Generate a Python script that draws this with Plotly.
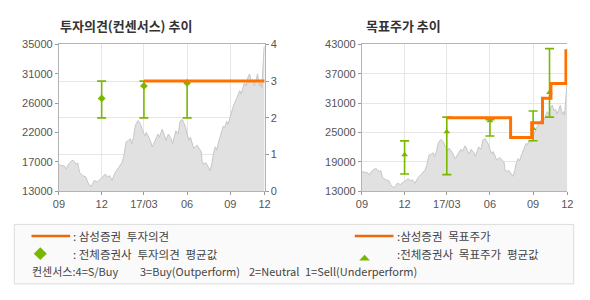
import plotly.graph_objects as go

# ---------------- data ----------------
price_dates = [
    '2016-09-01', '2016-09-06', '2016-09-13', '2016-09-17', '2016-09-20', '2016-09-27',
    '2016-10-01', '2016-10-05', '2016-10-08', '2016-10-11', '2016-10-15', '2016-10-22',
    '2016-10-29', '2016-11-01', '2016-11-08', '2016-11-12', '2016-11-15', '2016-11-22',
    '2016-11-29', '2016-12-06', '2016-12-09', '2016-12-13', '2016-12-18', '2016-12-23',
    '2016-12-30', '2017-01-06', '2017-01-13', '2017-01-17', '2017-01-22', '2017-01-27',
    '2017-01-31', '2017-02-03', '2017-02-07', '2017-02-10', '2017-02-13', '2017-02-17',
    '2017-02-22', '2017-02-26', '2017-03-03', '2017-03-06', '2017-03-10', '2017-03-13',
    '2017-03-19', '2017-03-24', '2017-03-27', '2017-03-31', '2017-04-03', '2017-04-09',
    '2017-04-14', '2017-04-17', '2017-04-22', '2017-04-28', '2017-05-01', '2017-05-05',
    '2017-05-08', '2017-05-13', '2017-05-17', '2017-05-22', '2017-05-26', '2017-05-29',
    '2017-06-01', '2017-06-05', '2017-06-08', '2017-06-12', '2017-06-15', '2017-06-22',
    '2017-06-26', '2017-07-01', '2017-07-03', '2017-07-06', '2017-07-11', '2017-07-17',
    '2017-07-20', '2017-07-24', '2017-07-27', '2017-07-31', '2017-08-03', '2017-08-07',
    '2017-08-10', '2017-08-13', '2017-08-17', '2017-08-20', '2017-08-24', '2017-08-27',
    '2017-08-31', '2017-09-05', '2017-09-08', '2017-09-14', '2017-09-17', '2017-09-21',
    '2017-09-24', '2017-09-28', '2017-10-01', '2017-10-05', '2017-10-08', '2017-10-12',
    '2017-10-15', '2017-10-19', '2017-10-22', '2017-10-26', '2017-10-29', '2017-11-02',
    '2017-11-05', '2017-11-07', '2017-11-09', '2017-11-12', '2017-11-13',
]
price_values = [
    17000, 16850, 16780, 16300, 16900, 17500,
    17650, 17300, 17030, 17270, 15830, 15340,
    15110, 14390, 13670, 14150, 14630, 14390,
    14870, 15340, 15590, 15110, 15340, 14630,
    15830, 16550, 17270, 18220, 20380, 20620,
    20860, 20140, 21100, 22540, 23250, 23600,
    23020, 22060, 21340, 21820, 21340, 20860,
    19660, 20380, 20860, 21580, 21100, 22300,
    21340, 20620, 21580, 20860, 20140, 21340,
    22060, 21580, 23500, 23740, 23020, 22540,
    21580, 20620, 21100, 20140, 19420, 19900,
    19420, 18940, 17500, 17030, 17270, 16550,
    16070, 17270, 18700, 19660, 19180, 20380,
    21100, 21820, 22780, 22540, 23500, 23020,
    23970, 24930, 25900, 26850, 27340, 28060,
    27570, 28530, 29250, 28770, 29970, 30590,
    29490, 29730, 28770, 29730, 30590, 28770,
    29250, 28530, 31650, 34700, 34700,
]

# consensus investment opinion (4=S/Buy ... 1=Sell)
opinion_dates = ['2016-12-01', '2017-03-01', '2017-06-01']
opinion_mean = [2.53, 2.87, 2.95]
opinion_high = [3, 3, 3]
opinion_low = [2, 2, 2]

# Samsung Securities opinion
house_opinion_dates = ['2017-03-01', '2017-11-13']
house_opinion_values = [3, 3]

# consensus target price
target_dates = ['2016-12-01', '2017-03-01', '2017-06-01', '2017-09-01', '2017-10-06']
target_mean = [20450, 25150, 27400, 25800, 33200]
target_high = [23300, 28150, 27640, 29400, 42140]
target_low = [16530, 16400, 24300, 23330, 28150]

# Samsung Securities target price (step)
house_target_dates = ['2017-03-01', '2017-07-15', '2017-08-29', '2017-09-21', '2017-10-09', '2017-11-10']
house_target_values = [28000, 24000, 27000, 32000, 35000, 42000]

x_range = ['2016-09-01', '2017-11-13']
x_tickvals = ['2016-09-01', '2016-12-01', '2017-03-01', '2017-06-01', '2017-09-01', '2017-11-13']
x_ticktext = ['09', '12', '17/03', '06', '09', '12']

left_tickvals = [13000, 17400, 21800, 26200, 30600, 35000]
left_ticktext = ['13000', '17000', '22000', '26000', '31000', '35000']
opinion_ticks = [0, 1, 2, 3, 4]
right_tickvals = [13000, 19000, 25000, 31000, 37000, 43000]
right_ticktext = ['13000', '19000', '25000', '31000', '37000', '43000']

# ---------------- style ----------------
W, H = 590, 300
ORANGE = '#ff7200'
LEG_ORANGE = '#ec6a0e'
GREEN = '#7ab800'
GRID = '#e6e6e6'
AXIS = '#b4b4b4'
TICKFONT = dict(family='Liberation Sans, Arial, sans-serif', size=11, color='#555555')
KFONT = 'Noto Sans CJK KR, sans-serif'
GAP = '\u2002'


def px(x):
    return x / W


def py(y):
    return 1 - y / H


fig = go.Figure()

# left chart: price area
fig.add_trace(go.Scatter(
    x=price_dates, y=price_values, xaxis='x', yaxis='y', mode='lines',
    line=dict(color='#c6c6c6', width=1), fill='tozeroy', fillcolor='#e1e1e1',
    hoverinfo='skip', showlegend=False))

# left chart: consensus opinion with range
fig.add_trace(go.Scatter(
    x=opinion_dates, y=opinion_mean, xaxis='x', yaxis='y2', mode='markers',
    marker=dict(symbol='diamond', size=6, color=GREEN),
    error_y=dict(type='data', symmetric=False,
                 array=[h - m for h, m in zip(opinion_high, opinion_mean)],
                 arrayminus=[m - l for m, l in zip(opinion_mean, opinion_low)],
                 color=GREEN, thickness=1.6, width=4.5),
    showlegend=False))

# left chart: house opinion
fig.add_trace(go.Scatter(
    x=house_opinion_dates, y=house_opinion_values, xaxis='x', yaxis='y2', mode='lines',
    line=dict(color=ORANGE, width=3), showlegend=False))

# right chart: price area
fig.add_trace(go.Scatter(
    x=price_dates, y=price_values, xaxis='x2', yaxis='y3', mode='lines',
    line=dict(color='#c6c6c6', width=1), fill='tozeroy', fillcolor='#e1e1e1',
    hoverinfo='skip', showlegend=False))

# right chart: consensus target with range
fig.add_trace(go.Scatter(
    x=target_dates, y=target_mean, xaxis='x2', yaxis='y3', mode='markers',
    marker=dict(symbol='triangle-up', size=6, color=GREEN),
    error_y=dict(type='data', symmetric=False,
                 array=[h - m for h, m in zip(target_high, target_mean)],
                 arrayminus=[m - l for m, l in zip(target_mean, target_low)],
                 color=GREEN, thickness=1.6, width=4.5),
    showlegend=False))

# right chart: house target (step)
fig.add_trace(go.Scatter(
    x=house_target_dates, y=house_target_values, xaxis='x2', yaxis='y3', mode='lines',
    line=dict(color=ORANGE, width=3, shape='hv'), showlegend=False))

ydom = [py(193), py(40)]
common_x = dict(type='date', range=x_range, tickvals=x_tickvals, ticktext=x_ticktext,
                showgrid=True, gridcolor=GRID, gridwidth=1, showline=True, linecolor=AXIS,
                linewidth=1, mirror=True, ticks='outside', ticklen=3, tickcolor='#999999',
                tickfont=TICKFONT, zeroline=False, fixedrange=True)

fig.update_layout(
    width=W, height=H, margin=dict(l=0, r=0, t=0, b=0),
    paper_bgcolor='white', plot_bgcolor='white', showlegend=False,
    xaxis=dict(domain=[px(54), px(264)], anchor='y', **common_x),
    yaxis=dict(domain=ydom, anchor='x', range=[13000, 35000], tickvals=left_tickvals,
               ticktext=left_ticktext, showgrid=False, showline=True, linecolor=AXIS,
               ticks='outside', ticklen=3, tickcolor='#999999', tickfont=TICKFONT,
               zeroline=False),
    yaxis2=dict(overlaying='y', anchor='x', side='right', range=[0, 4], tickvals=opinion_ticks,
                showgrid=True, gridcolor=GRID, showline=True, linecolor=AXIS,
                ticks='outside', ticklen=3, tickcolor='#999999', tickfont=TICKFONT,
                zeroline=False),
    xaxis2=dict(domain=[px(363.3), px(573)], anchor='y3', **common_x),
    yaxis3=dict(domain=ydom, anchor='x2', range=[13000, 43000], tickvals=right_tickvals,
                ticktext=right_ticktext,
                showgrid=True, gridcolor=GRID, showline=True, linecolor=AXIS,
                ticks='outside', ticklen=3, tickcolor='#999999', tickfont=TICKFONT,
                zeroline=False),
)

annotations = []


def text(x, y, s, size=11.5, color='#444444', bold=False):
    annotations.append(dict(
        x=px(x), y=py(y), xref='paper', yref='paper', xanchor='left', yanchor='middle',
        text=f'<b>{s}</b>' if bold else s, showarrow=False,
        font=dict(family=KFONT, size=size, color=color)))


# titles
text(53, 20.5, '투자의견(컨센서스) 추이', size=13, color='#333333', bold=True)
text(365, 20.5, '목표주가 추이', size=13, color='#333333', bold=True)

# legend texts
text(66, 240, f': 삼성증권{GAP}투자의견')
text(66, 258, f': 전체증권사{GAP}투자의견{GAP}평균값')
text(397, 240, f':삼성증권{GAP}목표주가')
text(397, 258, f':전체증권사{GAP}목표주가{GAP}평균값')
text(24, 276.5, '컨센서스:4=S/Buy', size=11)
text(135, 276.5, '3=Buy(Outperform)', size=11)
text(245.5, 276.5, '2=Neutral', size=11)
text(303.5, 276.5, '1=Sell(Underperform)', size=11)

fig.update_layout(annotations=annotations)

shapes = [
    # legend box
    dict(type='rect', xref='paper', yref='paper', x0=px(8.5), x1=px(579.5), y0=py(289.5), y1=py(227.5),
         fillcolor='#fafafa', line=dict(color='#dcdcdc', width=1), layer='below'),
    # legend lines
    dict(type='line', xref='paper', yref='paper', x0=px(26), x1=px(65.5), y0=py(239.5), y1=py(239.5),
         line=dict(color=LEG_ORANGE, width=2.5)),
    dict(type='line', xref='paper', yref='paper', x0=px(356), x1=px(395.5), y0=py(239.5), y1=py(239.5),
         line=dict(color=LEG_ORANGE, width=2.5)),
    # legend diamond
    dict(type='path', xref='paper', yref='paper',
         path=f'M {px(28.3)},{py(258)} L {px(35)},{py(251.3)} L {px(41.7)},{py(258)} L {px(35)},{py(264.7)} Z',
         fillcolor=GREEN, line=dict(width=0)),
    # legend triangle
    dict(type='path', xref='paper', yref='paper',
         path=f'M {px(360.5)},{py(265)} L {px(366)},{py(259)} L {px(371.5)},{py(265)} Z',
         fillcolor=GREEN, line=dict(width=0)),
]
fig.update_layout(shapes=shapes)

fig.write_html('out.html')
